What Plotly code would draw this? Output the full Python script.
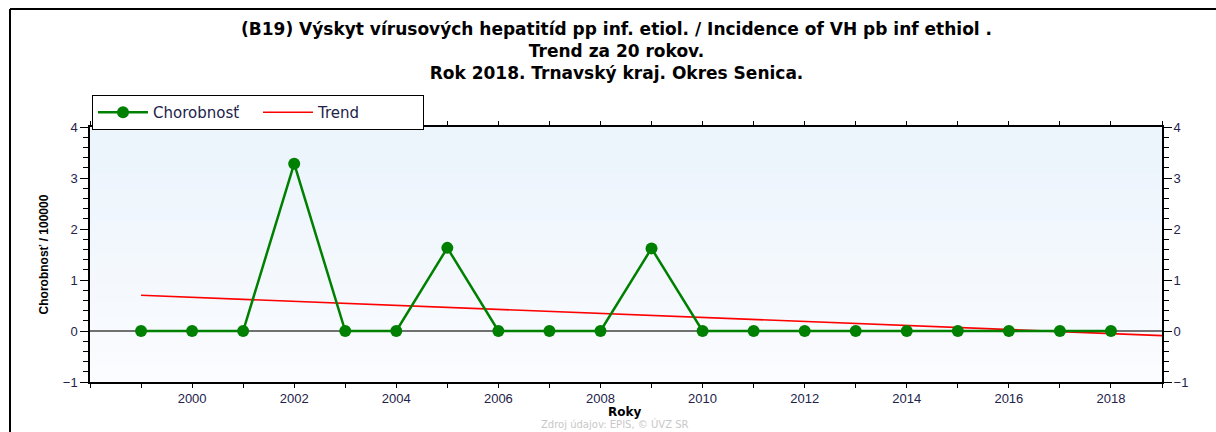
import plotly.graph_objects as go

years = list(range(1999, 2019))
chorobnost = [0, 0, 0, 3.28, 0, 0, 1.63, 0, 0, 0, 1.62, 0, 0, 0, 0, 0, 0, 0, 0, 0]
trend_x = [1999, 2019]
trend_y = [0.70, -0.09]
x_ticks = list(range(2000, 2019, 2))
y_ticks = [-1, 0, 1, 2, 3, 4]
title_lines = ["(B19) Výskyt vírusových hepatitíd pp inf. etiol. / Incidence of VH pb inf ethiol .",
               "Trend za 20 rokov.",
               "Rok 2018. Trnavský kraj. Okres Senica."]

W, H = 1216, 432
L, R, T, B = 90, 54, 127, 50
pw, ph = W - L - R, H - T - B

def px_x(p):
    return (p - L) / pw

def px_y(p):
    return (H - B - p) / ph

fig = go.Figure()
fig.add_trace(go.Scatter(x=trend_x, y=trend_y, mode="lines", name="Trend",
                         line=dict(color="#ff0000", width=1.6)))
fig.add_trace(go.Scatter(x=years, y=chorobnost, mode="lines+markers", name="Chorobnosť",
                         line=dict(color="#008000", width=2.5),
                         marker=dict(color="#008000", size=12, symbol="circle")))
fig.add_trace(go.Scatter(x=[years[0]], y=[chorobnost[0]], yaxis="y2", mode="markers",
                         marker=dict(opacity=0), showlegend=False, hoverinfo="skip"))

tickfont = dict(family="Liberation Sans, Arial", size=13, color="#22224a")
fig.update_layout(
    width=W, height=H,
    margin=dict(l=L, r=R, t=T, b=B),
    paper_bgcolor="white",
    plot_bgcolor="#f6fafe",
    showlegend=True,
    legend=dict(orientation="h", x=px_x(92), y=px_y(95), xanchor="left", yanchor="top",
                bgcolor="white", bordercolor="black", borderwidth=1,
                font=dict(family="DejaVu Sans", size=15, color="#22224a"),
                traceorder="reversed", entrywidth=100, entrywidthmode="pixels",
                itemwidth=50, tracegroupgap=0),
    xaxis=dict(range=[1998, 2019], tickmode="array", tickvals=x_ticks,
               ticks="outside", ticklen=4, tickwidth=1, tickcolor="black",
               showline=True, linecolor="black", linewidth=1.5, mirror="allticks",
               showgrid=False, zeroline=False, tickfont=tickfont,
               minor=dict(dtick=1, ticks="outside", ticklen=3, tickcolor="black", showgrid=False)),
    yaxis=dict(range=[-1, 4], tickmode="array", tickvals=y_ticks,
               ticks="outside", ticklen=8, tickwidth=1, tickcolor="black",
               showline=True, linecolor="black", linewidth=1.5, mirror="allticks",
               showgrid=False, zeroline=True, zerolinecolor="#707070", zerolinewidth=2,
               tickfont=tickfont,
               minor=dict(dtick=0.2, ticks="outside", ticklen=5, tickcolor="black", showgrid=False),
               title=dict(text="<b>Chorobnosť / 100000</b>", standoff=12,
                          font=dict(family="Liberation Sans, Arial", size=12, color="black"))),
    yaxis2=dict(range=[-1, 4], tickmode="array", tickvals=y_ticks, overlaying="y", side="right",
                ticks="outside", ticklen=8, tickcolor="black", showgrid=False, zeroline=False,
                showline=False, tickfont=tickfont,
                minor=dict(dtick=0.2, ticks="outside", ticklen=5, tickcolor="black", showgrid=False)),
)

# title (three centred lines)
fig.add_annotation(text="<b>" + "<br>".join(title_lines) + "</b>", xref="paper", yref="paper",
                   x=px_x(616), y=px_y(51), xanchor="center", yanchor="middle",
                   showarrow=False, align="center",
                   font=dict(family="DejaVu Sans", size=17, color="black"))

# x axis title
fig.add_annotation(text="<b>Roky</b>", xref="paper", yref="paper",
                   x=px_x(624), y=px_y(412), xanchor="center", yanchor="middle", showarrow=False,
                   font=dict(family="DejaVu Sans", size=12, color="black"))

# soft vertical gradient of the plot background (light blue at top)
n_bands = 16
for i in range(n_bands):
    t = i / (n_bands - 1)
    r = int(236 + (250 - 236) * t)
    g = int(244 + (252 - 244) * t)
    b = int(252 + (255 - 252) * t)
    fig.add_shape(type="rect", xref="paper", yref="paper", x0=0, x1=1,
                  y0=1 - (i + 1) / n_bands, y1=1 - i / n_bands,
                  fillcolor=f"rgb({r},{g},{b})", line=dict(width=0), layer="below")

# outer frame (left and top border of the picture)
fig.add_shape(type="line", xref="paper", yref="paper", x0=px_x(10), x1=px_x(W + 5),
              y0=px_y(9), y1=px_y(9), line=dict(color="black", width=2))
fig.add_shape(type="line", xref="paper", yref="paper", x0=px_x(10), x1=px_x(10),
              y0=px_y(9), y1=px_y(H + 5), line=dict(color="black", width=2))

fig.add_annotation(text="Zdroj údajov: EPIS, © ÚVZ SR", xref="paper", yref="paper",
                   x=px_x(615), y=px_y(432), xanchor="center", yanchor="bottom", showarrow=False,
                   font=dict(family="DejaVu Sans", size=10, color="#c8c8c8"))

fig.write_html("out.html", config={"displayModeBar": False},
               post_script="document.body.style.margin='0';document.body.style.overflow='hidden';")
